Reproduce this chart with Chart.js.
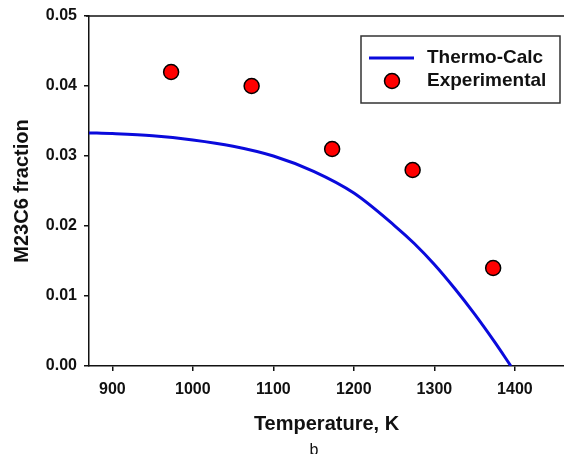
<!DOCTYPE html>
<html>
<head>
<meta charset="utf-8">
<script src="https://cdn.jsdelivr.net/npm/chart.js@4"></script>
<style>
    html, body { margin: 0; padding: 0; background: #fff; overflow: hidden; }
</style>
</head>
<body>
<canvas id="myChart" width="564" height="454"></canvas>
<script>
const calcTemps = [871, 900, 950, 1000, 1050, 1100, 1150, 1200, 1250, 1275, 1300, 1325, 1350, 1375, 1395];
const calcFraction = [0.0333, 0.0332, 0.0329, 0.0323, 0.0314, 0.0300, 0.0278, 0.0247, 0.0201, 0.0175, 0.0145, 0.0111, 0.0074, 0.0034, 0.0];

const expTemps = [973, 1073, 1173, 1273, 1373];
const expFraction = [0.042, 0.040, 0.031, 0.028, 0.014];

const xTicks = [900, 1000, 1100, 1200, 1300, 1400];
const yTicks = [0, 0.01, 0.02, 0.03, 0.04, 0.05];

const FONT = "Arial, 'Liberation Sans', sans-serif";
const INK = '#111';

// top frame line, legend box and the "b" caption
const extras = {
    id: 'extras',
    afterDraw(chart) {
        const ctx = chart.ctx;
        const a = chart.chartArea;
        ctx.save();
        ctx.strokeStyle = INK;
        ctx.lineWidth = 1.5;
        ctx.beginPath();
        ctx.moveTo(a.left - 3, a.top);
        ctx.lineTo(a.right, a.top);
        ctx.stroke();

        // legend
        ctx.strokeStyle = '#333';
        ctx.lineWidth = 1.5;
        ctx.strokeRect(361, 36, 199, 67);
        const ds = chart.data.datasets;
        ctx.strokeStyle = ds[0].borderColor;
        ctx.lineWidth = 3;
        ctx.beginPath();
        ctx.moveTo(369, 58);
        ctx.lineTo(414, 58);
        ctx.stroke();
        ctx.beginPath();
        ctx.arc(392, 81, 7.5, 0, Math.PI * 2);
        ctx.fillStyle = ds[1].backgroundColor;
        ctx.fill();
        ctx.lineWidth = 1.5;
        ctx.strokeStyle = ds[1].borderColor;
        ctx.stroke();
        ctx.fillStyle = INK;
        ctx.font = 'bold 19px ' + FONT;
        ctx.textBaseline = 'middle';
        ctx.textAlign = 'left';
        ctx.fillText(ds[0].label, 427, 58);
        ctx.fillText(ds[1].label, 427, 81);

        ctx.font = '16px ' + FONT;
        ctx.textAlign = 'center';
        ctx.textBaseline = 'alphabetic';
        ctx.fillText('b', 314, 455);
        ctx.restore();
    }
};

const data = {
    datasets: [{
        type: 'line',
        label: 'Thermo-Calc',
        data: calcTemps.map((t, i) => ({x: t, y: calcFraction[i]})),
        borderColor: 'rgb(10, 10, 220)',
        borderWidth: 3,
        pointRadius: 0,
        cubicInterpolationMode: 'monotone',
        fill: false,
        order: 2
    }, {
        type: 'scatter',
        label: 'Experimental',
        data: expTemps.map((t, i) => ({x: t, y: expFraction[i]})),
        backgroundColor: 'rgb(255, 0, 0)',
        borderColor: '#000',
        borderWidth: 1.5,
        pointRadius: 7.5,
        order: 1
    }]
};

const config = {
    type: 'scatter',
    data: data,
    options: {
        responsive: false,
        animation: false,
        layout: { autoPadding: false, padding: { top: 16, left: 0, right: 0, bottom: 0 } },
        plugins: { legend: { display: false }, tooltip: { enabled: false } },
        scales: {
            x: {
                type: 'linear',
                min: 871,
                max: 1461,
                afterBuildTicks: (s) => { s.ticks = xTicks.map(v => ({value: v})); },
                afterFit: (s) => { s.height = 88; s.paddingLeft = 0; s.paddingRight = 0; },
                grid: { drawOnChartArea: false, drawTicks: true, tickLength: 5, color: INK, lineWidth: 1.5 },
                border: { display: true, color: INK, width: 1.5 },
                ticks: { color: INK, font: { family: FONT, size: 16, weight: 'bold' }, padding: 9, maxRotation: 0,
                    callback: (v) => String(v) },
                title: { display: true, text: 'Temperature, K', color: INK,
                    font: { family: FONT, size: 20, weight: 'bold' }, padding: { top: 0, bottom: 18 } }
            },
            y: {
                min: 0,
                max: 0.05,
                afterBuildTicks: (s) => { s.ticks = yTicks.map(v => ({value: v})); },
                afterFit: (s) => { s.width = 89; s.paddingTop = 0; s.paddingBottom = 0; },
                grid: { drawOnChartArea: false, drawTicks: true, tickLength: 5, color: INK, lineWidth: 1.5 },
                border: { display: true, color: INK, width: 1.5 },
                ticks: { color: INK, font: { family: FONT, size: 16, weight: 'bold' }, padding: 7,
                    callback: (v) => v.toFixed(2) },
                title: { display: true, text: 'M23C6 fraction', color: INK,
                    font: { family: FONT, size: 20, weight: 'bold' }, padding: { top: 10, bottom: 0 } }
            }
        }
    },
    plugins: [extras]
};

const myChart = new Chart(document.getElementById('myChart'), config);
</script>
</body>
</html>
